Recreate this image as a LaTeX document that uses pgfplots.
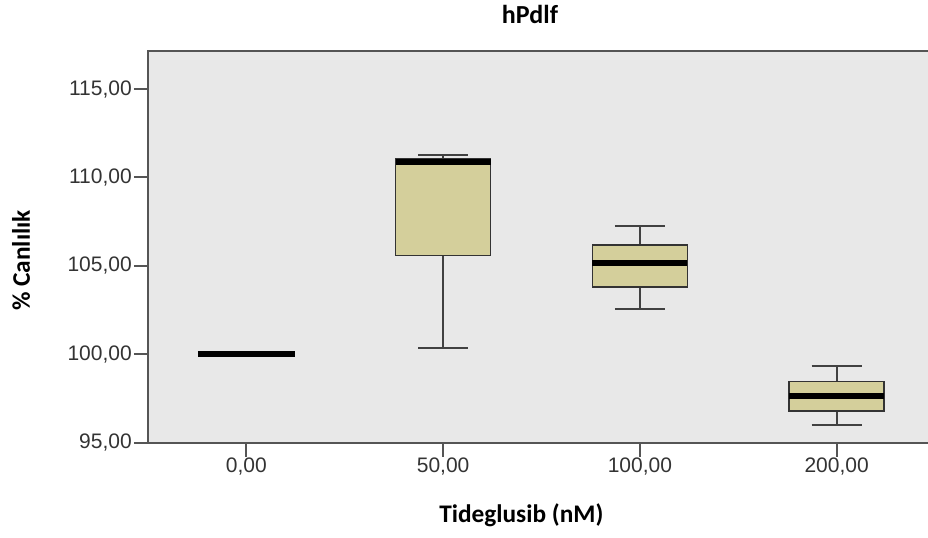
\documentclass[border=0pt]{standalone}
\usepackage{pgfplots}
\pgfplotsset{compat=1.18}
\usepgfplotslibrary{statistics}
\usepackage{fontspec}
\setmainfont{Liberation Sans}
\newfontfamily\labfont{Carlito}
\definecolor{boxfill}{RGB}{212,207,155}
\definecolor{bg}{RGB}{232,232,232}
\definecolor{axc}{RGB}{85,85,85}
\definecolor{wc}{RGB}{65,65,65}
\begin{document}
\begin{tikzpicture}
\begin{axis}[
  at={(0pt,0pt)}, anchor=south west,
  scale only axis, width=590.25pt, height=294pt,
  xmin=-0.5, xmax=3.5, ymin=95, ymax=117.17,
  axis background/.style={fill=bg},
  axis line style={axc, line width=1.5pt},
  xtick={0,1,2,3}, xticklabels={{0,00},{50,00},{100,00},{200,00}},
  ytick={95,100,105,110,115}, yticklabels={{95,00},{100,00},{105,00},{110,00},{115,00}},
  xtick pos=lower, ytick pos=left,
  tick align=outside, major tick length=10.5pt,
  tick style={axc, line width=1.5pt},
  ticklabel style={font=\fontsize{15.75}{18}\selectfont, text=black!80},
  yticklabel style={inner sep=0pt, anchor=east, xshift=-1.5pt},
  xticklabel style={inner sep=0pt, anchor=north, yshift=-1pt},
  boxplot/draw direction=y,
  boxplot/every median/.style={black, line width=4.5pt},
  boxplot/every whisker/.style={wc, line width=1.5pt},
  boxplot/every box/.style={draw=black!80, fill=boxfill, line width=1.2pt},
  clip=false,
]
\addplot[black, line width=4.5pt] coordinates {(-0.2465,100) (0.2465,100)};
\addplot[boxplot prepared={lower whisker=100.34, lower quartile=105.58, median=110.85,
  upper quartile=111.05, upper whisker=111.27, draw position=1,
  box extend=0.483, whisker extend=0.254}] coordinates {};
\addplot[boxplot prepared={lower whisker=102.58, lower quartile=103.79, median=105.15,
  upper quartile=106.18, upper whisker=107.27, draw position=2,
  box extend=0.483, whisker extend=0.254}] coordinates {};
\addplot[boxplot prepared={lower whisker=96.0, lower quartile=96.79, median=97.66,
  upper quartile=98.45, upper whisker=99.36, draw position=3,
  box extend=0.483, whisker extend=0.254}] coordinates {};
\end{axis}
\node[anchor=base, font=\labfont\bfseries\fontsize{19.5}{22}\selectfont] at (286.5pt,314.5pt) {hPdlf};
\node[anchor=base, font=\labfont\bfseries\fontsize{19}{22}\selectfont] at (280pt,-60.2pt) {Tideglusib (nM)};
\node[anchor=base, rotate=90, font=\labfont\bfseries\fontsize{19}{22}\selectfont] at (-88.5pt,136.65pt) {\% Canlılık};
\pgfresetboundingbox
\path (-111pt,-71.5pt) rectangle (585pt,332pt);
\end{tikzpicture}
\end{document}
